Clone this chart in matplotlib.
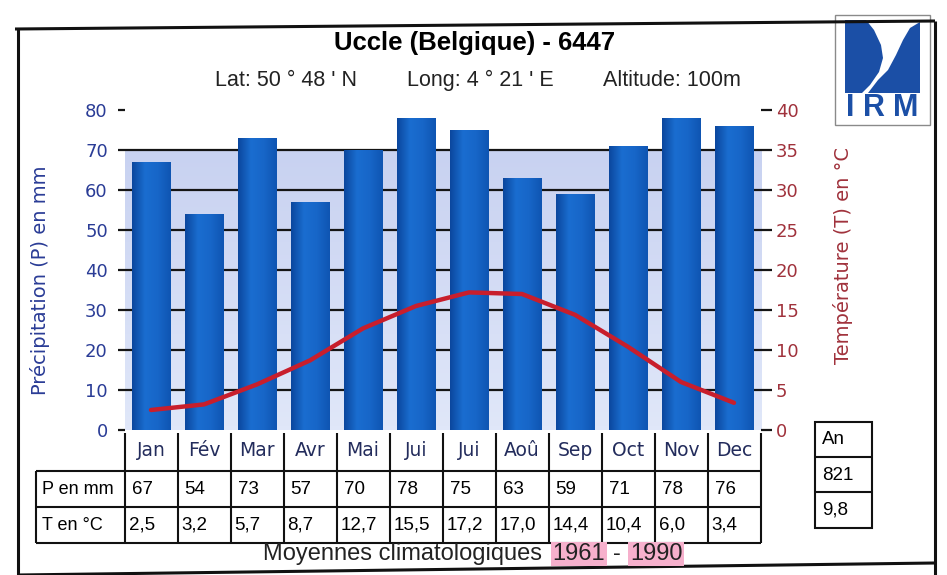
import numpy as np
import matplotlib
matplotlib.use("Agg")
import matplotlib.pyplot as plt
from matplotlib.patches import Polygon, Rectangle
from matplotlib.colors import LinearSegmentedColormap

# Normales climatologiques Uccle 1961-1990
months = ["Jan", "Fév", "Mar", "Avr", "Mai", "Jui", "Jui", "Aoû", "Sep", "Oct", "Nov", "Dec"]
precip_mm = [67, 54, 73, 57, 70, 78, 75, 63, 59, 71, 78, 76]
temp_c = [2.5, 3.2, 5.7, 8.7, 12.7, 15.5, 17.2, 17.0, 14.4, 10.4, 6.0, 3.4]
annual_precip = "821"
annual_temp = "9,8"

W, H = 947, 575
ARIAL = ["Liberation Sans", "DejaVu Sans"]
BLUE_TXT = "#2a3c96"
RED_TXT = "#a0323c"


def fx(px):
    return px / W


def fy(py):
    return 1 - py / H


def fmt(v):
    return f"{v:.1f}".replace(".", ",")


fig = plt.figure(figsize=(W / 100, H / 100), dpi=100)

# pixel overlay for frame, table and captions
ov = fig.add_axes([0, 0, 1, 1])
ov.set_xlim(0, W)
ov.set_ylim(H, 0)
ov.set_autoscale_on(False)
ov.axis("off")

ax = fig.add_axes([fx(124.5), fy(430), 636 / W, 320 / H])
x = np.arange(len(months))

# back wall
wall = np.linspace(1, 0, 64).reshape(-1, 1)
wall_cmap = LinearSegmentedColormap.from_list("wall", ["#e0e7f9", "#c8d2f1"])
ax.imshow(wall, cmap=wall_cmap, extent=(-0.5, 11.5, 0, 70), aspect="auto", zorder=0)
for v in range(10, 80, 10):
    ax.axhline(v, color="#151515", lw=1.6, zorder=1)

bars = ax.bar(x, precip_mm, width=0.72, color="#1463c3", zorder=2)
grad = np.linspace(0, 1, 64).reshape(1, -1)
bar_cmap = LinearSegmentedColormap.from_list(
    "bar", ["#0b479e", "#1a6dd0", "#1766c8", "#0f55b2"])
for b in bars:
    im = ax.imshow(grad, cmap=bar_cmap, aspect="auto", zorder=2.1,
                   extent=(b.get_x(), b.get_x() + b.get_width(), 0, b.get_height()))
    im.set_clip_path(b)

ax.set_xlim(-0.5, 11.5)
ax.set_ylim(0, 80)
ax.set_xticks([])
ax.set_yticks(range(0, 81, 10))
ax.tick_params(axis="y", length=5, width=1.6, color="#151515",
               labelcolor=BLUE_TXT, labelsize=13, pad=7)
for s in ax.spines.values():
    s.set_visible(False)

ax2 = ax.twinx()
ax2.plot(x, temp_c, color="#c81e2c", lw=3.2, solid_capstyle="round",
         solid_joinstyle="round", zorder=5)
ax2.set_ylim(0, 40)
ax2.set_yticks(range(0, 41, 5))
ax2.tick_params(axis="y", length=8, width=1.6, color="#151515",
                labelcolor=RED_TXT, labelsize=13, pad=3)
for s in ax2.spines.values():
    s.set_visible(False)

fig.text(fx(40), fy(280), "Précipitation (P) en mm", rotation=90, color=BLUE_TXT,
         fontsize=14, ha="center", va="center")
fig.text(fx(843), fy(255), "Température (T) en °C", rotation=90, color=RED_TXT,
         fontsize=14, ha="center", va="center")

# titles
ov.text(475, 43, "Uccle (Belgique) - 6447", family=ARIAL, weight="bold",
        fontsize=18.5, ha="center", va="center")
for cx, s in [(286, "Lat: 50 ° 48 ' N"), (480, "Long: 4 ° 21 ' E"), (672, "Altitude: 100m")]:
    ov.text(cx, 80, s, family=ARIAL, fontsize=15.5, ha="center", va="center", color="#222")

# table of monthly values
edges = [ax.transData.transform((i - 0.5, 0))[0] for i in range(len(months) + 1)]
lk = dict(color="#111", lw=1.5, solid_capstyle="butt")
for e in edges:
    ov.plot([e, e], [433, 543], **lk)
for yy in (471, 507, 543):
    ov.plot([36, edges[-1]], [yy, yy], **lk)
ov.plot([36, 36], [471, 543], **lk)
ov.text(42, 489, "P en mm", family=ARIAL, fontsize=13, va="center")
ov.text(42, 525, "T en °C", family=ARIAL, fontsize=13, va="center")
for i, m in enumerate(months):
    cx = (edges[i] + edges[i + 1]) / 2
    ov.text(cx, 451, m, fontsize=13.5, ha="center", va="center", color="#232c5c")
    ov.text(edges[i] + 7, 489, str(precip_mm[i]), family=ARIAL, fontsize=13.5, va="center")
    ov.text(edges[i] + 4, 525, fmt(temp_c[i]), family=ARIAL, fontsize=13.5, va="center")

# annual column
ov.add_patch(Rectangle((815, 422), 57, 106, fill=False, ec="#111", lw=1.5))
for yy in (457, 492):
    ov.plot([815, 872], [yy, yy], **lk)
ov.text(822, 440, "An", family=ARIAL, fontsize=13.5, va="center")
ov.text(822, 475, annual_precip, family=ARIAL, fontsize=13.5, va="center")
ov.text(822, 510, annual_temp, family=ARIAL, fontsize=13.5, va="center")

# caption
hl = dict(boxstyle="square,pad=0.06", fc="#f6b0cc", ec="none")
ov.text(542, 554, "Moyennes climatologiques", family=ARIAL, fontsize=17,
        ha="right", va="center", color="#222")
ov.text(579, 554, "1961", family=ARIAL, fontsize=17, ha="center", va="center",
        color="#222", bbox=hl)
ov.text(617, 554, "-", family=ARIAL, fontsize=17, ha="center", va="center", color="#222")
ov.text(656, 554, "1990", family=ARIAL, fontsize=17, ha="center", va="center",
        color="#222", bbox=hl)

# frame
fk = dict(color="#111", lw=2.2, solid_capstyle="butt")
ov.plot([15, 935], [29, 21], **fk)
ov.plot([18, 18], [28, 575], **fk)
ov.plot([935, 935], [21, 575], **fk)
ov.plot([18, 935], [575, 563], **fk)

# IRM logo
ov.add_patch(Rectangle((835, 15), 95, 110, fill=False, ec="#8a8a8a", lw=1))
logo_blue = "#1b4fa6"
ov.add_patch(Polygon([(845, 20), (866, 20), (874, 30), (881, 45), (883, 58), (879, 72),
                      (870, 85), (862, 93), (845, 93)], closed=True, fc=logo_blue, ec="none"))
ov.add_patch(Polygon([(920, 22), (920, 93), (868, 93), (878, 80), (888, 70), (896, 55),
                      (903, 40), (910, 28)], closed=True, fc=logo_blue, ec="none"))
for cx, ch in [(850, "I"), (874, "R"), (906, "M")]:
    ov.text(cx, 108, ch, family=ARIAL, fontsize=22, ha="center", va="center",
            color=logo_blue, weight="bold")

fig.savefig("out.png", dpi=100)
